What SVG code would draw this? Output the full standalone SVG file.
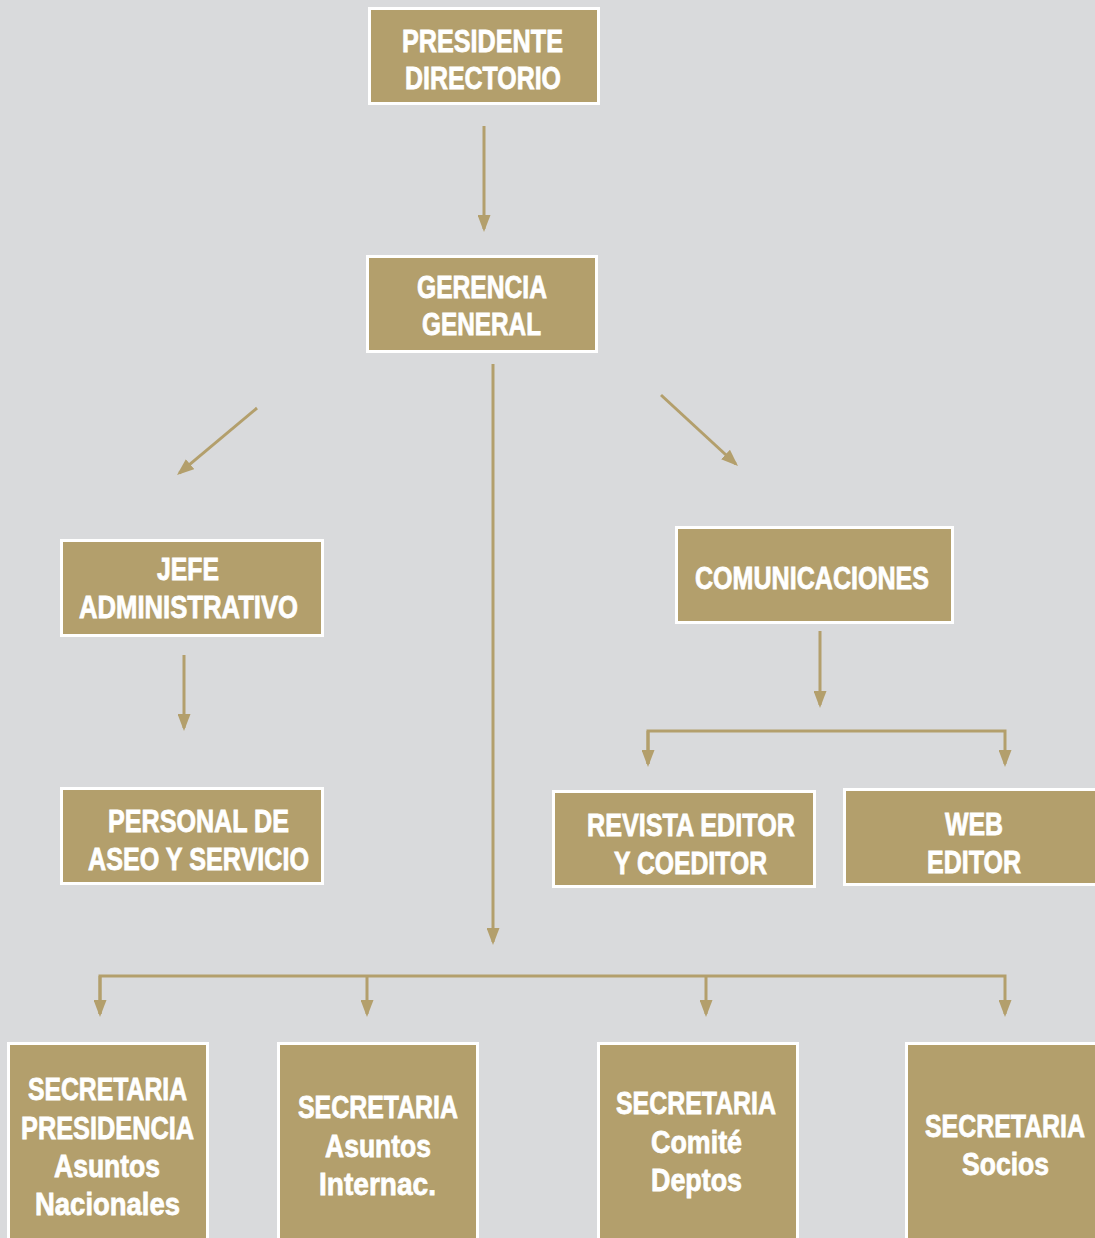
<svg xmlns="http://www.w3.org/2000/svg" width="1095" height="1238" viewBox="0 0 1095 1238">
<defs>
<style>
.box{fill:#b39f6c;stroke:#ffffff;stroke-width:3}
.t{fill:#ffffff;stroke:#ffffff;stroke-width:0.8;font-family:"Liberation Sans",Arial,sans-serif;font-weight:bold;font-size:32px;text-anchor:middle}
.c{fill:none;stroke:#b39f6c;stroke-width:3}
</style>
<marker id="ah" viewBox="0 0 17 13" refX="14" refY="6.5" markerWidth="17" markerHeight="13" markerUnits="userSpaceOnUse" orient="auto">
<path d="M0,0 L17,6.5 L0,13 Z" fill="#b39f6c"/>
</marker>
</defs>
<rect width="1095" height="1238" fill="#d9dadc"/>
<g id="connectors">
<line class="c" x1="484" y1="126" x2="484" y2="229" marker-end="url(#ah)"/>
<line class="c" x1="257" y1="408" x2="179.3" y2="473.1" marker-end="url(#ah)"/>
<line class="c" x1="661" y1="395" x2="735.8" y2="464" marker-end="url(#ah)"/>
<line class="c" x1="493" y1="364" x2="493" y2="942" marker-end="url(#ah)"/>
<line class="c" x1="184" y1="655" x2="184" y2="728" marker-end="url(#ah)"/>
<line class="c" x1="820" y1="631" x2="820" y2="705" marker-end="url(#ah)"/>
<polyline class="c" points="648,764 648,731 1005,731 1005,764" marker-end="url(#ah)"/>
<line class="c" x1="648" y1="731" x2="648" y2="764" marker-end="url(#ah)"/>
<polyline class="c" points="100,1014 100,976 1005,976 1005,1014" marker-end="url(#ah)"/>
<line class="c" x1="100" y1="976" x2="100" y2="1014" marker-end="url(#ah)"/>
<line class="c" x1="367" y1="976" x2="367" y2="1014" marker-end="url(#ah)"/>
<line class="c" x1="706" y1="976" x2="706" y2="1014" marker-end="url(#ah)"/>
</g>
<g id="presidente">
<rect class="box" x="369.5" y="8.5" width="229" height="95"/>
<text class="t" x="482.5" y="52" textLength="161" lengthAdjust="spacingAndGlyphs">PRESIDENTE</text>
<text class="t" x="483" y="89" textLength="156" lengthAdjust="spacingAndGlyphs">DIRECTORIO</text>
</g>
<g id="gerencia">
<rect class="box" x="367.5" y="256.5" width="229" height="95"/>
<text class="t" x="482" y="298" textLength="130" lengthAdjust="spacingAndGlyphs">GERENCIA</text>
<text class="t" x="481.5" y="335" textLength="119" lengthAdjust="spacingAndGlyphs">GENERAL</text>
</g>
<g id="jefe">
<rect class="box" x="61.5" y="540.5" width="261" height="95"/>
<text class="t" x="188" y="580" textLength="62" lengthAdjust="spacingAndGlyphs">JEFE</text>
<text class="t" x="188.5" y="618" textLength="219" lengthAdjust="spacingAndGlyphs">ADMINISTRATIVO</text>
</g>
<g id="personal">
<rect class="box" x="61.5" y="788.5" width="261" height="95"/>
<text class="t" x="198.5" y="832" textLength="181" lengthAdjust="spacingAndGlyphs">PERSONAL DE</text>
<text class="t" x="198.5" y="870" textLength="221" lengthAdjust="spacingAndGlyphs">ASEO Y SERVICIO</text>
</g>
<g id="comunicaciones">
<rect class="box" x="676.5" y="527.5" width="276" height="95"/>
<text class="t" x="812" y="589" textLength="234" lengthAdjust="spacingAndGlyphs">COMUNICACIONES</text>
</g>
<g id="revista">
<rect class="box" x="553.5" y="791.5" width="261" height="95"/>
<text class="t" x="691" y="836" textLength="208" lengthAdjust="spacingAndGlyphs">REVISTA EDITOR</text>
<text class="t" x="690.5" y="874" textLength="153" lengthAdjust="spacingAndGlyphs">Y COEDITOR</text>
</g>
<g id="web">
<rect class="box" x="844.5" y="789.5" width="260" height="95"/>
<text class="t" x="974" y="835" textLength="58" lengthAdjust="spacingAndGlyphs">WEB</text>
<text class="t" x="974" y="873" textLength="94" lengthAdjust="spacingAndGlyphs">EDITOR</text>
</g>
<g id="sec-presidencia">
<rect class="box" x="8.5" y="1043.5" width="199" height="205"/>
<text class="t" x="107.5" y="1100" textLength="159" lengthAdjust="spacingAndGlyphs">SECRETARIA</text>
<text class="t" x="107.5" y="1139" textLength="173" lengthAdjust="spacingAndGlyphs">PRESIDENCIA</text>
<text class="t" x="107" y="1177" textLength="106" lengthAdjust="spacingAndGlyphs">Asuntos</text>
<text class="t" x="107.5" y="1215" textLength="145" lengthAdjust="spacingAndGlyphs">Nacionales</text>
</g>
<g id="sec-internac">
<rect class="box" x="278.5" y="1043.5" width="199" height="205"/>
<text class="t" x="378" y="1118" textLength="160" lengthAdjust="spacingAndGlyphs">SECRETARIA</text>
<text class="t" x="378" y="1157" textLength="106" lengthAdjust="spacingAndGlyphs">Asuntos</text>
<text class="t" x="377.5" y="1195" textLength="117" lengthAdjust="spacingAndGlyphs">Internac.</text>
</g>
<g id="sec-comite">
<rect class="box" x="598.5" y="1043.5" width="199" height="205"/>
<text class="t" x="696" y="1114" textLength="160" lengthAdjust="spacingAndGlyphs">SECRETARIA</text>
<text class="t" x="696.5" y="1153" textLength="91" lengthAdjust="spacingAndGlyphs">Comité</text>
<text class="t" x="696.5" y="1191" textLength="91" lengthAdjust="spacingAndGlyphs">Deptos</text>
</g>
<g id="sec-socios">
<rect class="box" x="906.5" y="1043.5" width="199" height="205"/>
<text class="t" x="1005" y="1137" textLength="160" lengthAdjust="spacingAndGlyphs">SECRETARIA</text>
<text class="t" x="1005.5" y="1175" textLength="87" lengthAdjust="spacingAndGlyphs">Socios</text>
</g>
</svg>
